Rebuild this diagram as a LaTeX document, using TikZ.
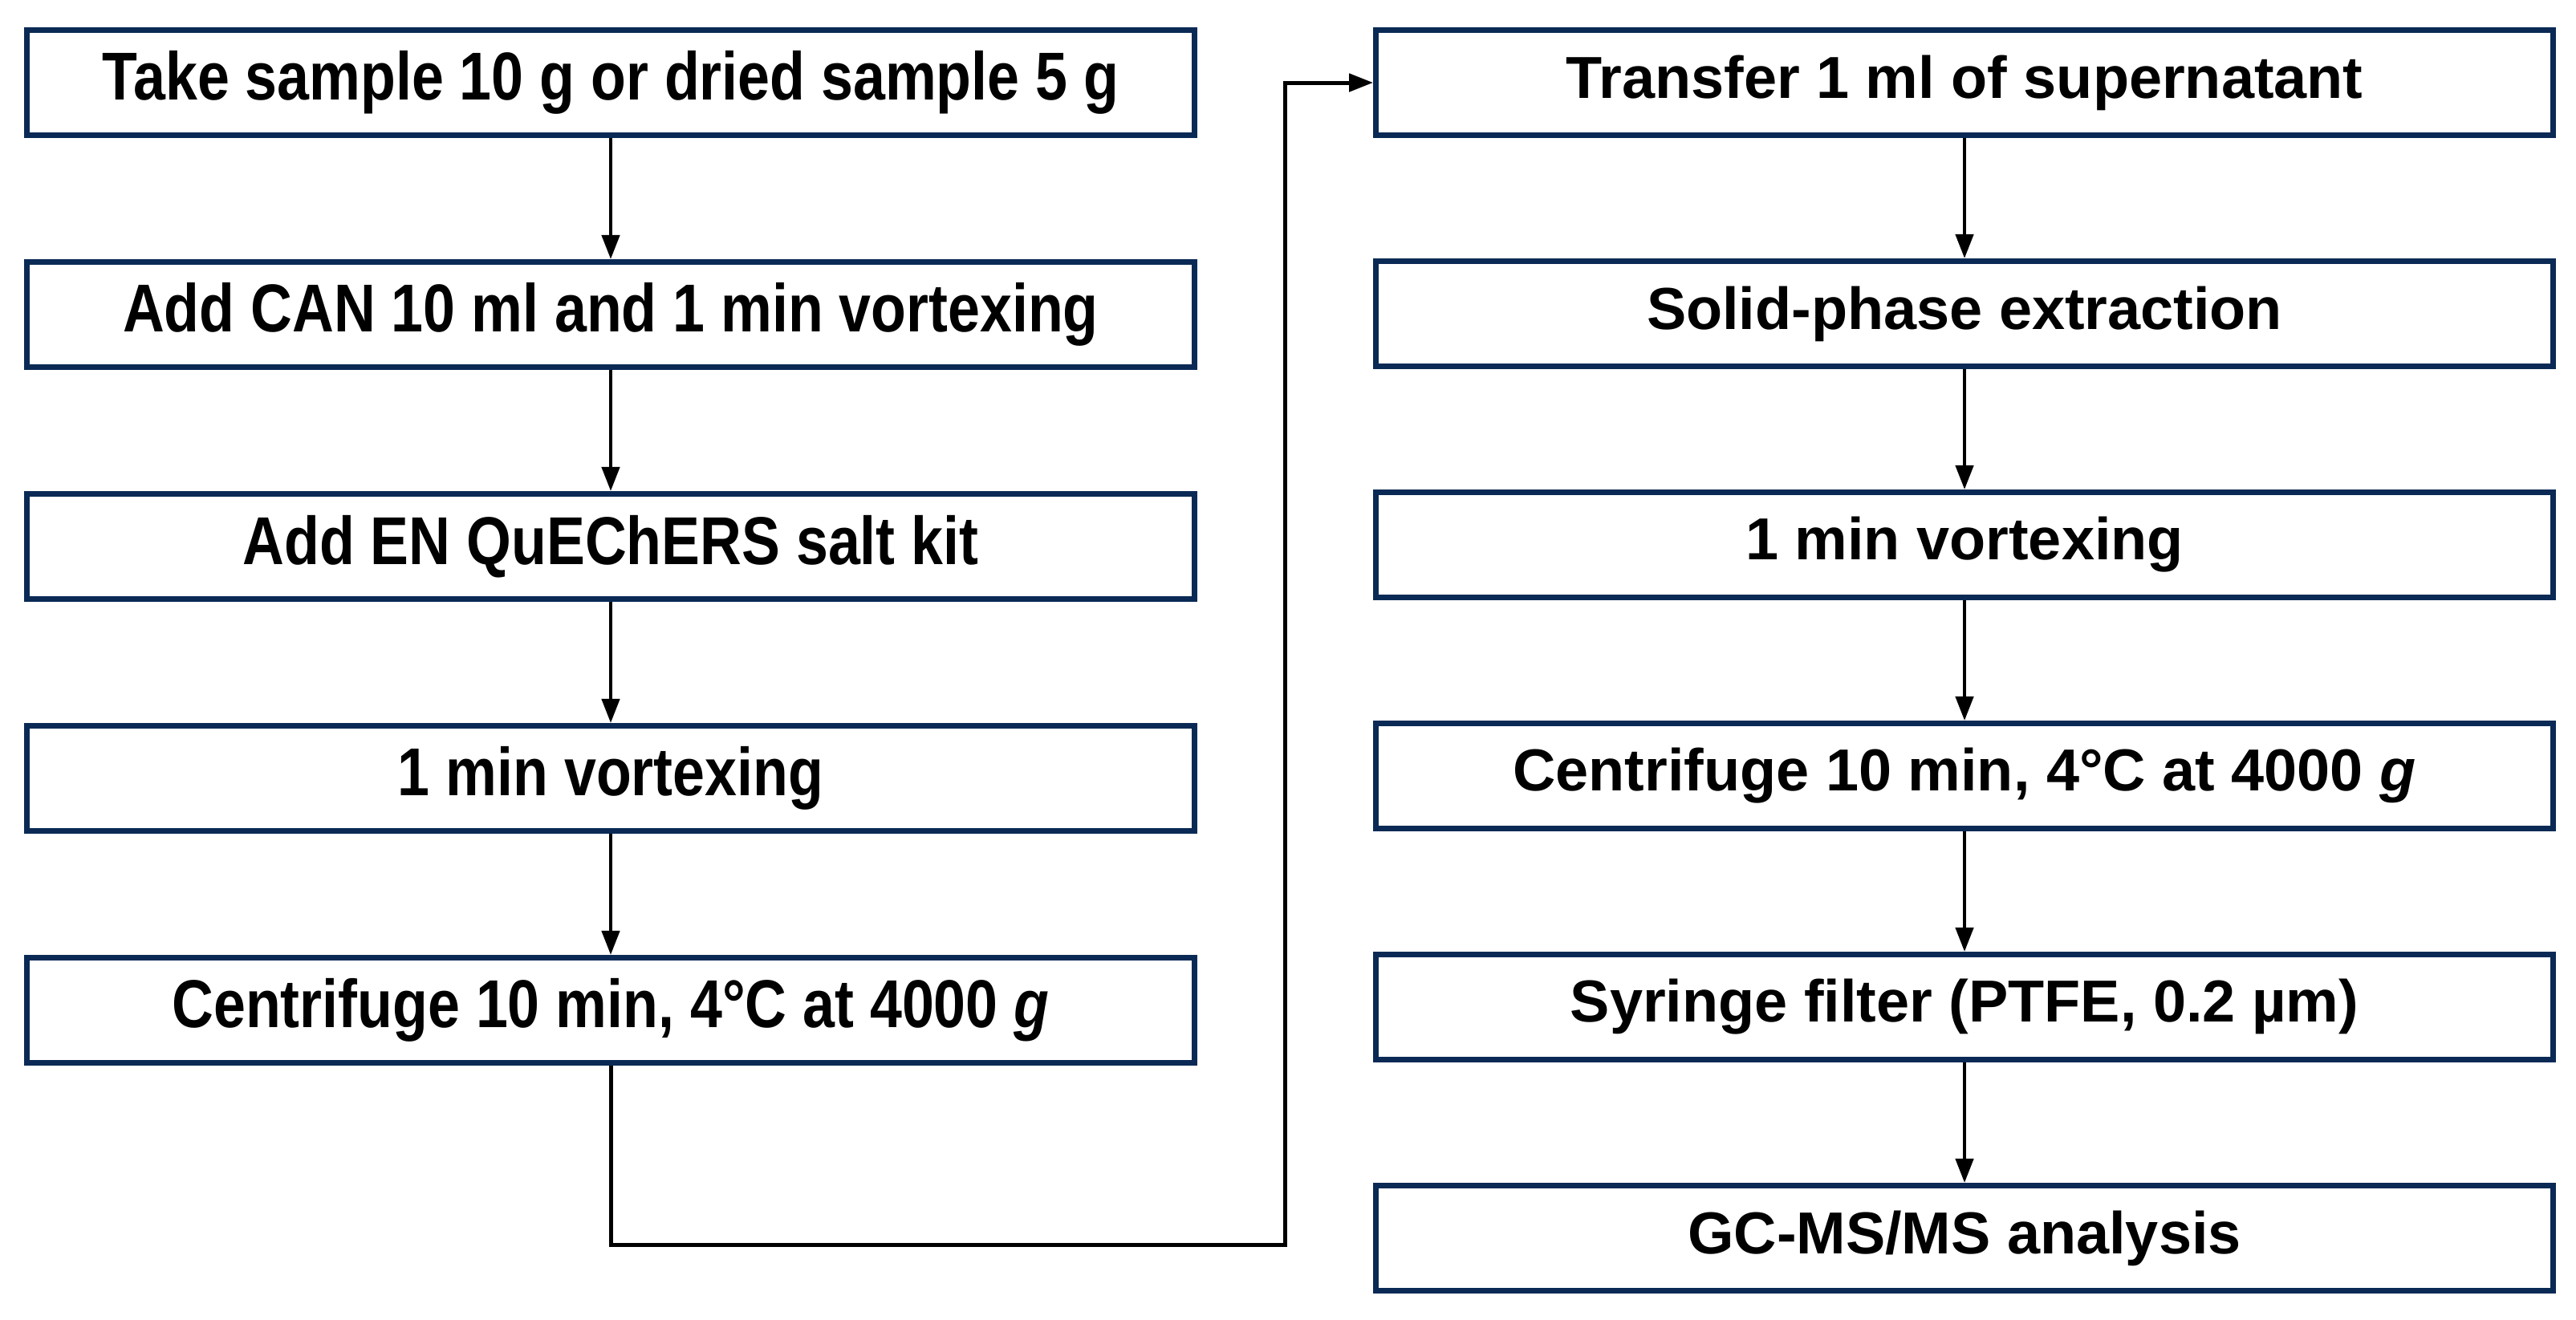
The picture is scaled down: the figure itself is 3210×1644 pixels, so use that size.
\documentclass[tikz,border=0pt]{standalone}
\usepackage{fontspec}
\setmainfont{Liberation Sans}
\usetikzlibrary{arrows.meta}
\definecolor{navy}{HTML}{0A2A55}
\begin{document}
\begin{tikzpicture}[x=0.01cm,y=-0.01cm,
  box/.style={draw=navy,line width=0.07cm,minimum height=1.31cm,inner sep=0pt},
  lbox/.style={box,minimum width=14.55cm,font=\bfseries\fontsize{24}{28}\selectfont\addfontfeature{FakeStretch=0.85}},
  rbox/.style={box,minimum width=14.66cm,font=\bfseries\fontsize{21}{25}\selectfont},
  arr/.style={line width=0.045cm,-{Triangle[length=0.3cm,width=0.22cm]}}]
\useasboundingbox (0,0) rectangle (3210,1644);
\foreach \n/\t [count=\i from 0] in {l1/{Take sample 10 g or dried sample 5 g},
  l2/{Add CAN 10 ml and 1 min vortexing},
  l3/{Add EN QuEChERS salt kit},
  l4/{1 min vortexing},
  l5/{Centrifuge 10 min, 4\textdegree C at 4000 \textit{g}}}
  \node[lbox] (\n) at (761,{103+289*\i}) {\t};
\foreach \n/\t [count=\i from 0] in {r1/{Transfer 1 ml of supernatant},
  r2/{Solid-phase extraction},
  r3/{1 min vortexing},
  r4/{Centrifuge 10 min, 4\textdegree C at 4000 \textit{g}},
  r5/{Syringe filter (PTFE, 0.2 µm)},
  r6/{GC-MS/MS analysis}}
  \node[rbox] (\n) at (2448,{103+288*\i}) {\t};
\foreach \a/\b in {l1/l2,l2/l3,l3/l4,l4/l5,r1/r2,r2/r3,r3/r4,r4/r5,r5/r6}
  \draw[arr] (\a) -- (\b);
\coordinate (c1) at (761,1551);
\coordinate (c2) at (1601,1551);
\coordinate (c3) at (1601,103);
\draw[arr,line width=0.05cm] (l5.south) -- (c1) -- (c2) -- (c3) -- (r1.west);
\end{tikzpicture}
\end{document}
